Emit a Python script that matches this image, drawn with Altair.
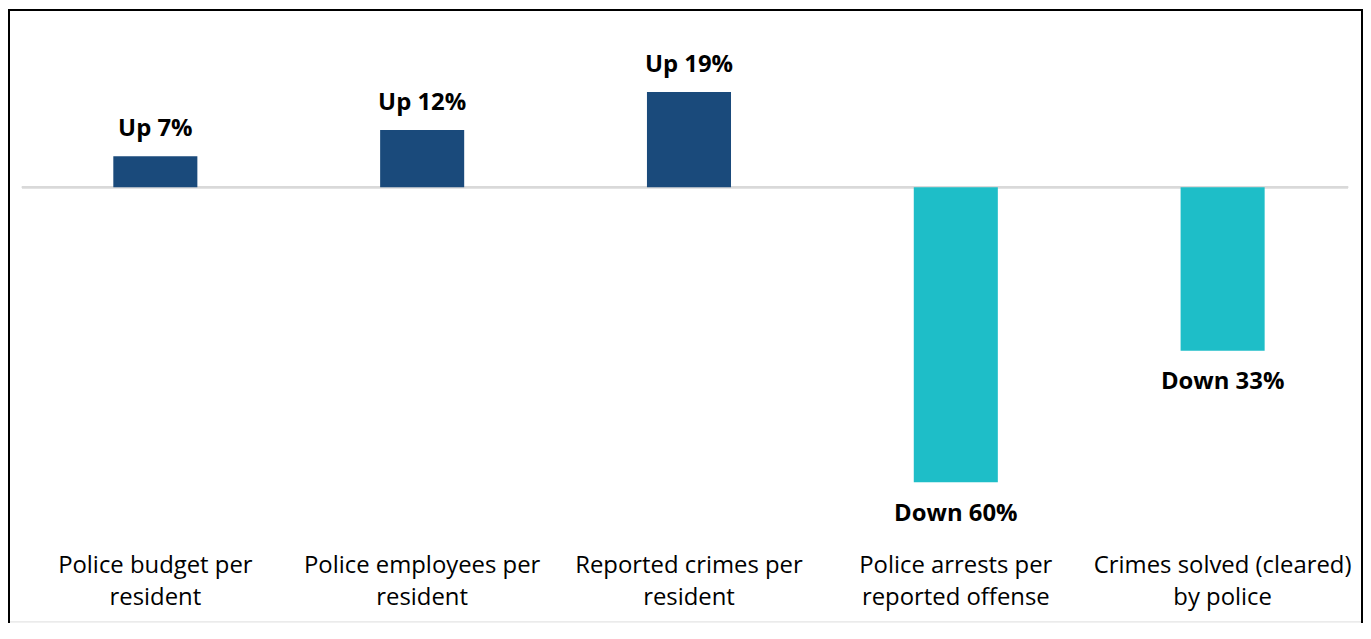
import altair as alt
import pandas as pd

categories = [
    "Police budget per\nresident",
    "Police employees per\nresident",
    "Reported crimes per\nresident",
    "Police arrests per\nreported offense",
    "Crimes solved (cleared)\nby police",
]
changes = [6.3, 11.6, 19.3, -59.9, -33.2]
value_labels = ["Up 7%", "Up 12%", "Up 19%", "Down 60%", "Down 33%"]
directions = ["Up", "Up", "Up", "Down", "Down"]

df = pd.DataFrame({
    "cat": categories,
    "value": changes,
    "label": value_labels,
    "dir": directions,
})

W, H = 1362, 615
FONT = "Open Sans"

xscale = alt.Scale(range=[14, 1355], paddingInner=0.685, paddingOuter=0.3425)
yscale = alt.Scale(domain=[-88.18, 36.06], nice=False, zero=False)
xenc = alt.X("cat:N", sort=None, scale=xscale, axis=None)

bars = alt.Chart(df).mark_bar().encode(
    x=xenc,
    y=alt.Y("value:Q", scale=yscale, axis=None, stack=None),
    color=alt.Color("dir:N", scale=alt.Scale(domain=["Up", "Down"], range=["#1A4A7B", "#1EBEC8"]), legend=None),
)

zero = alt.Chart(df).transform_calculate(z="0").mark_rule(color="#D9D9D9", strokeWidth=2).encode(
    y=alt.Y("z:Q", scale=yscale, axis=None),
    x=alt.value(14),
    x2=alt.value(1347),
)

vlabels = alt.Chart(df).transform_calculate(
    ly="datum.value >= 0 ? datum.value + 5.5 : datum.value - 6.4"
).mark_text(
    font=FONT, fontSize=24, fontWeight="bold", color="#000000", baseline="middle"
).encode(
    x=xenc,
    y=alt.Y("ly:Q", scale=yscale, axis=None),
    text="label:N",
)

clabels = alt.Chart(df).mark_text(
    font=FONT, fontSize=24, color="#000000", baseline="middle", lineBreak="\n", lineHeight=33
).encode(
    x=xenc,
    y=alt.value(559),
    text="cat:N",
)

bl = alt.Chart(df).mark_rule(color="#000000", strokeWidth=2).encode(
    x=alt.value(1), y=alt.value(0), y2=alt.value(H + 5))
bt = alt.Chart(df).mark_rule(color="#000000", strokeWidth=2).encode(
    x=alt.value(0), x2=alt.value(W), y=alt.value(0.5))
br = alt.Chart(df).mark_rule(color="#000000", strokeWidth=2).encode(
    x=alt.value(W - 1), y=alt.value(0), y2=alt.value(H + 5))

chart = alt.layer(zero, bars, vlabels, clabels, bl, bt, br).properties(
    width=W, height=H,
    autosize=alt.AutoSizeParams(type="none"),
    padding=0,
).configure_view(stroke=None).configure(background="white")

chart.save("out.html", embed_options={"renderer": "svg", "actions": False})
